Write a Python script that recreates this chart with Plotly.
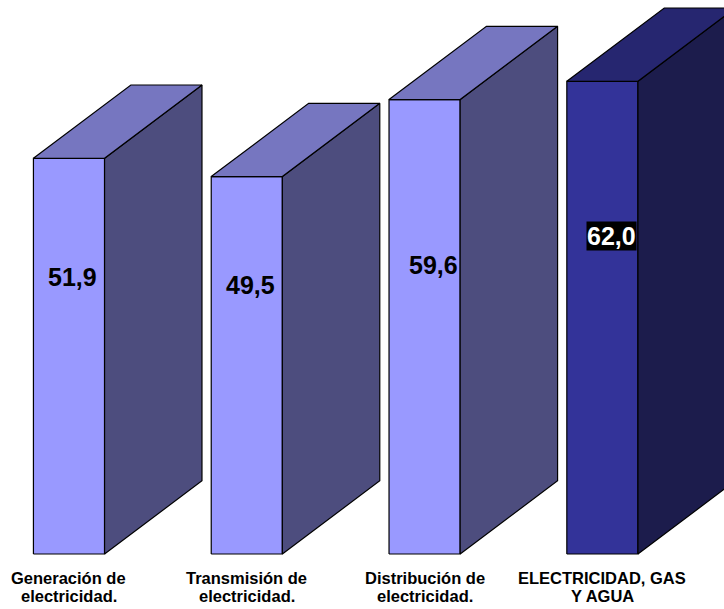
import plotly.graph_objects as go

categories = [["Generación de", "electricidad."], ["Transmisión de", "electricidad."],
              ["Distribución de", "electricidad."], ["ELECTRICIDAD, GAS", "Y AGUA"]]
values = [51.9, 49.5, 59.6, 62.0]
value_labels = ["51,9", "49,5", "59,6", "62,0"]

front_colors = ["#9999FF", "#9999FF", "#9999FF", "#333399"]
side_colors = ["#4D4D7E", "#4D4D7E", "#4D4D7E", "#1C1C4C"]
top_colors = ["#7676C0", "#7676C0", "#7676C0", "#262670"]
label_frac = [0.70, 0.713, 0.636, 0.673]
label_dx = [0.022, 0.022, 0.048, 0.05]

half_w = 0.2      # half width of front face (category units)
dx = 0.548        # depth offset x (category units)
dy = 9.61         # depth offset y (value units)

fig = go.Figure()
for i, v in enumerate(values):
    x0, x1 = i - half_w, i + half_w
    # front face
    fig.add_trace(go.Scatter(x=[x0, x1, x1, x0, x0], y=[0, 0, v, v, 0], fill="toself",
                             fillcolor=front_colors[i], mode="lines",
                             line=dict(color="black", width=1.2), hoverinfo="skip",
                             showlegend=False))
    # side face
    fig.add_trace(go.Scatter(x=[x1, x1 + dx, x1 + dx, x1, x1], y=[0, dy, v + dy, v, 0],
                             fill="toself", fillcolor=side_colors[i], mode="lines",
                             line=dict(color="black", width=1.2), hoverinfo="skip",
                             showlegend=False))
    # top face
    fig.add_trace(go.Scatter(x=[x0, x1, x1 + dx, x0 + dx, x0], y=[v, v, v + dy, v + dy, v],
                             fill="toself", fillcolor=top_colors[i], mode="lines",
                             line=dict(color="black", width=1.2), hoverinfo="skip",
                             showlegend=False))

annotations = []
for i, v in enumerate(values):
    last = i == len(values) - 1
    annotations.append(dict(
        x=i + label_dx[i], y=v * label_frac[i], xref="x", yref="y",
        text="<b>%s</b>" % value_labels[i], showarrow=False,
        font=dict(family="Liberation Sans, Arial", size=25,
                  color="white" if last else "black"),
        bgcolor="black" if last else "rgba(0,0,0,0)", borderpad=0))
    for j, line in enumerate(categories[i]):
        annotations.append(dict(
            x=i, y=-3.2 - 2.3 * j, xref="x", yref="y", text="<b>%s</b>" % line,
            showarrow=False, align="center",
            font=dict(family="Liberation Sans, Arial", size=16.5, color="black")))

fig.update_layout(
    width=724, height=609, margin=dict(l=0, r=0, t=0, b=0),
    paper_bgcolor="white", plot_bgcolor="white",
    xaxis=dict(range=[-0.388, 3.684], visible=False, fixedrange=True),
    yaxis=dict(range=[-7.21, 72.66], visible=False, fixedrange=True),
    annotations=annotations, showlegend=False)

fig.write_html("out.html", config={"displayModeBar": False},
               post_script="document.body.style.margin='0';document.body.style.overflow='hidden';")
